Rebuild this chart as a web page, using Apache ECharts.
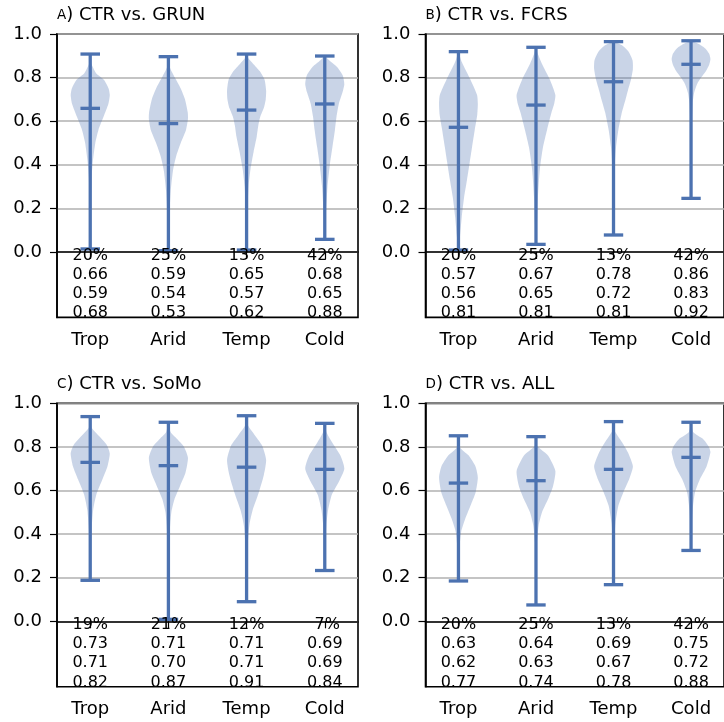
<!DOCTYPE html>
<html><head><meta charset="utf-8">
<script src="https://cdn.jsdelivr.net/npm/echarts@6/dist/echarts.min.js"></script>
<style>html,body{margin:0;padding:0;background:#fff}#c{width:724px;height:722px}</style>
</head><body><div id="c"></div>
<script>
const categories = ['Trop', 'Arid', 'Temp', 'Cold'];
const catPositions = [1, 2, 3, 4];
const yTicks = [0, 0.2, 0.4, 0.6, 0.8, 1.0];
const panelLetters = ['A', 'B', 'C', 'D'];
const panelTitles = ['CTR vs. GRUN', 'CTR vs. FCRS', 'CTR vs. SoMo', 'CTR vs. ALL'];

// Panel A
const A_min = [0.014, 0.006, 0.009, 0.058];
const A_max = [0.908, 0.896, 0.908, 0.899];
const A_median = [0.659, 0.589, 0.651, 0.679];
const A_pct = ['20%', '25%', '13%', '42%'];
const A_row1 = ['0.66', '0.59', '0.65', '0.68'];
const A_row2 = ['0.59', '0.54', '0.57', '0.65'];
const A_row3 = ['0.68', '0.53', '0.62', '0.88'];
const A_shapes = [
  [[0.908,0],[0.87,0.03],[0.82,0.3],[0.79,0.7],[0.75,0.94],[0.72,1.0],[0.68,0.93],[0.62,0.68],[0.56,0.42],[0.50,0.26],[0.42,0.14],[0.34,0.07],[0.20,0.03],[0.014,0]],
  [[0.896,0],[0.85,0.06],[0.80,0.33],[0.75,0.63],[0.70,0.85],[0.64,0.99],[0.61,1.0],[0.56,0.9],[0.50,0.63],[0.44,0.4],[0.37,0.23],[0.28,0.12],[0.18,0.06],[0.006,0]],
  [[0.908,0],[0.89,0.08],[0.865,0.32],[0.83,0.67],[0.79,0.92],[0.74,1.0],[0.70,0.98],[0.66,0.88],[0.62,0.7],[0.58,0.6],[0.53,0.52],[0.46,0.36],[0.38,0.2],[0.30,0.1],[0.20,0.05],[0.009,0]],
  [[0.899,0],[0.88,0.22],[0.85,0.62],[0.81,0.92],[0.77,1.0],[0.73,0.9],[0.68,0.72],[0.62,0.6],[0.56,0.52],[0.48,0.39],[0.40,0.26],[0.30,0.14],[0.20,0.07],[0.058,0]]
];

// Panel B
const B_min = [0.009, 0.035, 0.078, 0.246];
const B_max = [0.919, 0.939, 0.965, 0.969];
const B_median = [0.572, 0.674, 0.781, 0.861];
const B_pct = ['20%', '25%', '13%', '42%'];
const B_row1 = ['0.57', '0.67', '0.78', '0.86'];
const B_row2 = ['0.56', '0.65', '0.72', '0.83'];
const B_row3 = ['0.81', '0.81', '0.81', '0.92'];
const B_shapes = [
  [[0.919,0],[0.87,0.18],[0.79,0.62],[0.72,0.96],[0.68,1.0],[0.63,0.97],[0.56,0.84],[0.48,0.7],[0.41,0.58],[0.33,0.44],[0.25,0.29],[0.16,0.17],[0.07,0.08],[0.009,0]],
  [[0.939,0],[0.91,0.09],[0.865,0.3],[0.79,0.72],[0.72,1.0],[0.68,0.94],[0.64,0.8],[0.56,0.57],[0.48,0.36],[0.38,0.2],[0.25,0.1],[0.12,0.05],[0.035,0]],
  [[0.965,0],[0.95,0.42],[0.92,0.77],[0.88,0.98],[0.84,1.0],[0.79,0.9],[0.74,0.74],[0.70,0.62],[0.64,0.43],[0.56,0.25],[0.48,0.13],[0.40,0.07],[0.25,0.03],[0.078,0]],
  [[0.969,0],[0.955,0.37],[0.935,0.72],[0.91,0.93],[0.885,1.0],[0.86,0.94],[0.83,0.77],[0.80,0.52],[0.77,0.31],[0.73,0.16],[0.68,0.08],[0.55,0.03],[0.246,0]]
];

// Panel C
const C_min = [0.188, 0.009, 0.09, 0.233];
const C_max = [0.939, 0.913, 0.943, 0.908];
const C_median = [0.729, 0.714, 0.707, 0.697];
const C_pct = ['19%', '21%', '12%', ' 7%'];
const C_row1 = ['0.73', '0.71', '0.71', '0.69'];
const C_row2 = ['0.71', '0.70', '0.71', '0.69'];
const C_row3 = ['0.82', '0.87', '0.91', '0.84'];
const C_shapes = [
  [[0.939,0],[0.89,0.06],[0.85,0.45],[0.81,0.84],[0.77,1.0],[0.71,0.88],[0.65,0.62],[0.58,0.31],[0.51,0.15],[0.42,0.07],[0.30,0.03],[0.188,0]],
  [[0.913,0],[0.867,0.12],[0.836,0.45],[0.80,0.8],[0.75,1.0],[0.68,0.87],[0.62,0.59],[0.56,0.31],[0.50,0.15],[0.41,0.07],[0.25,0.03],[0.009,0]],
  [[0.943,0],[0.90,0.06],[0.85,0.45],[0.805,0.8],[0.74,1.0],[0.67,0.88],[0.59,0.62],[0.51,0.31],[0.44,0.14],[0.35,0.06],[0.20,0.02],[0.09,0]],
  [[0.908,0],[0.867,0.09],[0.82,0.38],[0.76,0.8],[0.70,1.0],[0.64,0.72],[0.58,0.36],[0.51,0.17],[0.44,0.08],[0.35,0.03],[0.233,0]]
];

// Panel D
const D_min = [0.185, 0.075, 0.168, 0.325];
const D_max = [0.851, 0.847, 0.916, 0.913];
const D_median = [0.634, 0.645, 0.697, 0.752];
const D_pct = ['20%', '25%', '13%', '42%'];
const D_row1 = ['0.63', '0.64', '0.69', '0.75'];
const D_row2 = ['0.62', '0.63', '0.67', '0.72'];
const D_row3 = ['0.77', '0.74', '0.78', '0.88'];
const D_shapes = [
  [[0.851,0],[0.80,0.06],[0.76,0.53],[0.71,0.88],[0.66,1.0],[0.59,0.88],[0.53,0.62],[0.47,0.35],[0.41,0.14],[0.33,0.05],[0.185,0]],
  [[0.847,0],[0.805,0.06],[0.76,0.62],[0.69,1.0],[0.62,0.88],[0.56,0.62],[0.50,0.31],[0.44,0.14],[0.36,0.05],[0.075,0]],
  [[0.916,0],[0.874,0.06],[0.82,0.45],[0.775,0.74],[0.71,1.0],[0.65,0.8],[0.59,0.5],[0.53,0.25],[0.45,0.1],[0.35,0.04],[0.168,0]],
  [[0.913,0],[0.867,0.12],[0.836,0.62],[0.80,0.92],[0.775,1.0],[0.71,0.8],[0.65,0.45],[0.59,0.2],[0.51,0.08],[0.42,0.03],[0.325,0]]
];

const panels = [
  {min: A_min, max: A_max, median: A_median, pct: A_pct, r1: A_row1, r2: A_row2, r3: A_row3, shapes: A_shapes},
  {min: B_min, max: B_max, median: B_median, pct: B_pct, r1: B_row1, r2: B_row2, r3: B_row3, shapes: B_shapes},
  {min: C_min, max: C_max, median: C_median, pct: C_pct, r1: C_row1, r2: C_row2, r3: C_row3, shapes: C_shapes},
  {min: D_min, max: D_max, median: D_median, pct: D_pct, r1: D_row1, r2: D_row2, r3: D_row3, shapes: D_shapes}
];

const FONT = 'DejaVu Sans';
const lineColor = '#4c72b0';
const fillColor = 'rgba(76,114,176,0.3)';
const halfWidth = 0.25;
const capHalf = 0.125;

const gridPos = [
  {left: 57, top: 34},
  {left: 425.5, top: 34},
  {left: 57, top: 403.3},
  {left: 425.5, top: 403.3}
];
const gridW = 301, gridH = 283.4;

function renderFor(p) {
  return function (params, api) {
    const i = params.dataIndex;
    const x = catPositions[i];
    const c = (xv, yv) => api.coord([xv, yv]);
    const right = [], left = [];
    p.shapes[i].forEach(function (pt) {
      right.push(c(x + pt[1] * halfWidth, pt[0]));
      left.push(c(x - pt[1] * halfWidth, pt[0]));
    });
    const pts = right.concat(left.reverse());
    const ls = {stroke: lineColor, lineWidth: 3.3};
    const seg = (x1, y1, x2, y2) => {
      const a = c(x1, y1), b = c(x2, y2);
      return {type: 'line', shape: {x1: a[0], y1: a[1], x2: b[0], y2: b[1]}, style: ls};
    };
    const t0 = c(x, 0);
    return {
      type: 'group',
      children: [
        {type: 'polygon', shape: {points: pts, smooth: 0.2}, style: {fill: fillColor}},
        seg(x, p.min[i], x, p.max[i]),
        seg(x - capHalf, p.max[i], x + capHalf, p.max[i]),
        seg(x - capHalf, p.min[i], x + capHalf, p.min[i]),
        seg(x - capHalf, p.median[i], x + capHalf, p.median[i]),
        {type: 'text', x: t0[0], y: t0[1] - 6, z2: 10,
          style: {text: [p.pct[i], p.r1[i], p.r2[i], p.r3[i]].join('\n'),
            fontSize: 16, lineHeight: 19.2, fontFamily: FONT, fill: '#000',
            align: 'center', verticalAlign: 'top'}}
      ]
    };
  };
}

const option = {
  animation: false,
  backgroundColor: '#fff',
  title: panels.map((p, k) => ({
    text: '{sc|' + panelLetters[k] + '}) ' + panelTitles[k],
    left: gridPos[k].left,
    top: gridPos[k].top - 28,
    padding: 0,
    textStyle: {fontSize: 18, fontFamily: FONT, color: '#000', fontWeight: 'normal',
      rich: {sc: {fontSize: 13.5, fontFamily: FONT, color: '#000'}}}
  })),
  grid: gridPos.map(g => ({left: g.left, top: g.top, width: gridW, height: gridH,
    show: true, borderColor: '#000', borderWidth: 1.6, backgroundColor: 'transparent'})),
  xAxis: panels.map((p, k) => ({
    type: 'value', gridIndex: k, min: 0.575, max: 4.425, z: 5,
    axisLine: {show: true, lineStyle: {color: '#000', width: 1.6}},
    axisTick: {show: true, inside: false, length: 7, customValues: catPositions, lineStyle: {color: '#000', width: 1.2}},
    axisLabel: {customValues: catPositions, margin: 14, fontSize: 18, fontFamily: FONT, color: '#000',
      formatter: v => categories[catPositions.indexOf(Math.round(v))]},
    splitLine: {show: false}
  })),
  yAxis: panels.map((p, k) => ({
    type: 'value', gridIndex: k, min: -0.3, max: 1.0,
    axisLine: {show: true, lineStyle: {color: '#000', width: 1.6}},
    axisTick: {show: true, inside: false, length: 7, customValues: yTicks, lineStyle: {color: '#000', width: 1.2}},
    axisLabel: {customValues: yTicks, margin: 15, fontSize: 18, fontFamily: FONT, color: '#000',
      formatter: v => v.toFixed(1)},
    splitLine: {show: true, lineStyle: {color: '#b0b0b0', width: 1.5}}
  })),
  series: panels.map((p, k) => ({
    type: 'custom', xAxisIndex: k, yAxisIndex: k,
    renderItem: renderFor(p),
    data: catPositions.map((x, i) => [x, p.median[i]])
  }))
};

const chart = echarts.init(document.getElementById('c'), null, {renderer: 'canvas'});
chart.setOption(option);
</script>
</body></html>
